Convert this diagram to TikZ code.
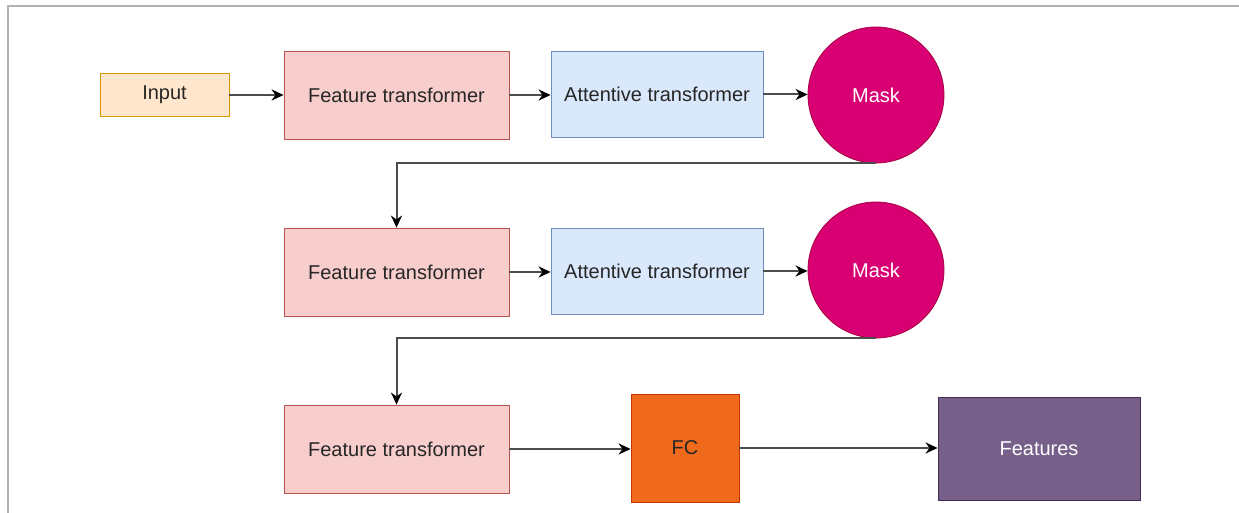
\documentclass[tikz,border=0pt]{standalone}
\usepackage{fontspec}
\setmainfont{Liberation Sans}
\usetikzlibrary{positioning,arrows.meta}
\definecolor{inpfill}{HTML}{FFE6CC}
\definecolor{inpline}{HTML}{D79B00}
\definecolor{ftfill}{HTML}{F8CECC}
\definecolor{ftline}{HTML}{B85450}
\definecolor{atfill}{HTML}{DAE8FC}
\definecolor{atline}{HTML}{6C8EBF}
\definecolor{maskfill}{HTML}{D80073}
\definecolor{maskline}{HTML}{A50040}
\definecolor{fcfill}{HTML}{F06A1E}
\definecolor{fcline}{HTML}{C73500}
\definecolor{featfill}{HTML}{76608A}
\definecolor{featline}{HTML}{432D57}

\begin{document}
\begin{tikzpicture}[
    x=0.5pt, y=-0.5pt,
    font=\fontsize{10}{12}\selectfont, text=black!85,
    >={Stealth[length=6pt, width=5.5pt, black]},
    inpbox/.style={draw=inpline, fill=inpfill, minimum width=64.5pt, minimum height=21.5pt},
    ftbox/.style={draw=ftline, fill=ftfill, minimum width=112.5pt, minimum height=44pt},
    atbox/.style={draw=atline, fill=atfill, minimum width=106pt, minimum height=43pt},
    maskdot/.style={circle, draw=maskline, fill=maskfill, minimum size=68pt, inner sep=0pt, text=white},
    fcbox/.style={draw=fcline, fill=fcfill, minimum width=54pt, minimum height=54pt},
    featbox/.style={draw=featline, fill=featfill, minimum width=101pt, minimum height=51.5pt, text=white},
    link/.style={->, draw=black!70, line width=1pt}]
  \useasboundingbox (0,0) rectangle (1239,513);
  \draw[black!30, line width=0.8pt] (8,513) -- (8,6) -- (1239,6);
  % first row
  \node[inpbox] (inp) at (164.5,95) {Input};
  \node[ftbox] (ft1) at (396.5,95) {Feature transformer};
  \node[atbox] (at1) at (657,94.5) {Attentive transformer};
  \node[maskdot] (m1) at (876,95) {Mask};
  % second row
  \node[ftbox] (ft2) at (396.5,272) {Feature transformer};
  \node[atbox] (at2) at (657,271) {Attentive transformer};
  \node[maskdot] (m2) at (876,270) {Mask};
  % third row
  \node[ftbox] (ft3) at (396.5,449) {Feature transformer};
  \node[fcbox] (fc) at (685,448) {FC};
  \node[featbox] (feat) at (1039,448.5) {Features};
  \draw[link] (inp.east) -- (inp.east -| ft1.west);
  \draw[link] (ft1.east) -- (ft1.east -| at1.west);
  \draw[link] (at1.east) -- (at1.east -| m1.west);
  \draw[link] (m1.south) -| (ft2.north);
  \draw[link] (ft2.east) -- (ft2.east -| at2.west);
  \draw[link] (at2.east) -- (at2.east -| m2.west);
  \draw[link] (m2.south) -| (ft3.north);
  \draw[link] (ft3.east) -- (ft3.east -| fc.west);
  \draw[link] (fc.east) -- (fc.east -| feat.west);
\end{tikzpicture}
\end{document}
